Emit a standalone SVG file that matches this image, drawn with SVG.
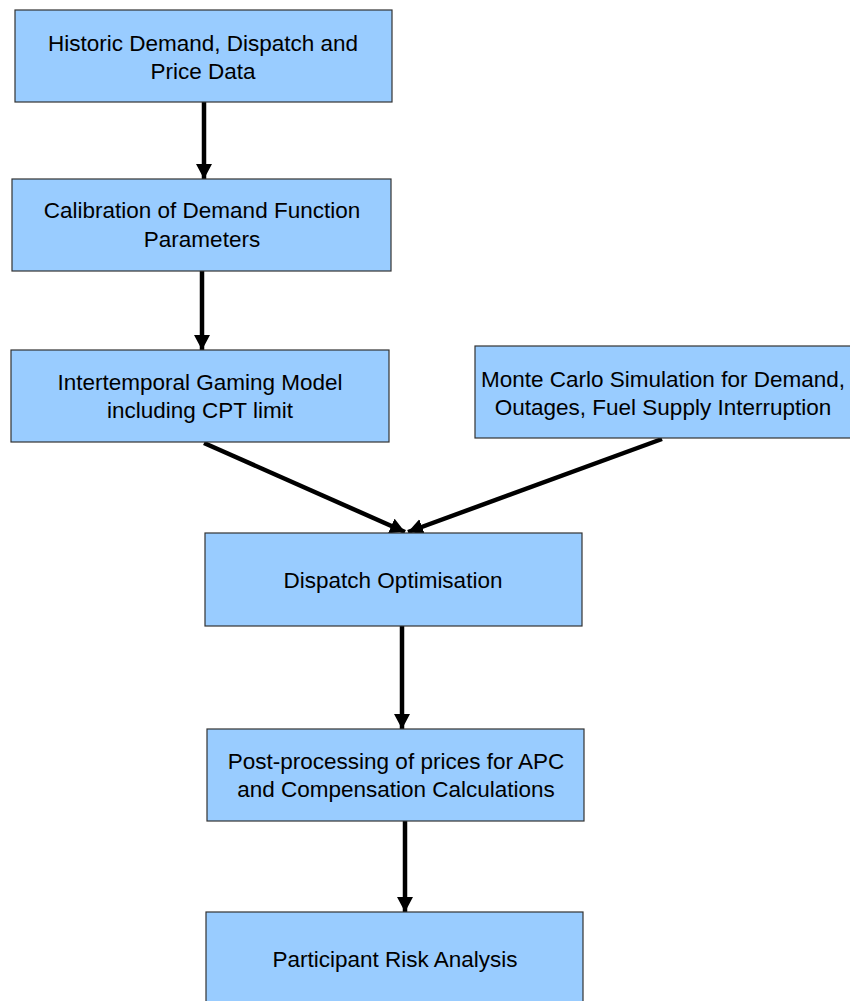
<svg xmlns="http://www.w3.org/2000/svg" width="850" height="1001" viewBox="0 0 850 1001">
<style>
.box{fill:#99CCFF;stroke:#333333;stroke-width:1.2}
.t{font-family:"Liberation Sans",Arial,sans-serif;font-size:22.5px;fill:#000;text-anchor:middle}
.c{stroke:#000;stroke-width:4.5;fill:none;marker-end:url(#ah)}
</style>
<defs>
<marker id="ah" markerUnits="userSpaceOnUse" markerWidth="17" markerHeight="17" refX="15" refY="8" orient="auto">
<path d="M0,0 L15,8 L0,16 Z" fill="#000"/>
</marker>
</defs>
<rect width="850" height="1001" fill="#fff"/>
<g id="connectors">
<line class="c" x1="204" y1="102" x2="204" y2="179"/>
<line class="c" x1="202" y1="271" x2="202" y2="350"/>
<line class="c" x1="204" y1="443" x2="405" y2="532"/>
<line class="c" x1="662" y1="439" x2="408" y2="532"/>
<line class="c" x1="402" y1="626" x2="402" y2="729"/>
<line class="c" x1="405" y1="821" x2="405" y2="912"/>
</g>
<g id="n1"><rect class="box" x="15" y="10" width="377" height="92"/>
<text class="t" x="203" y="51">Historic Demand, Dispatch and</text><text class="t" x="203" y="79">Price Data</text></g>
<g id="n2"><rect class="box" x="12" y="179" width="379" height="92"/>
<text class="t" x="202" y="218">Calibration of Demand Function</text><text class="t" x="202" y="247">Parameters</text></g>
<g id="n3"><rect class="box" x="11" y="350" width="378" height="92"/>
<text class="t" x="200" y="390">Intertemporal Gaming Model</text><text class="t" x="200" y="418">including CPT limit</text></g>
<g id="n4"><rect class="box" x="475" y="346" width="380" height="92"/>
<text class="t" x="663" y="387">Monte Carlo Simulation for Demand,</text><text class="t" x="663" y="415">Outages, Fuel Supply Interruption</text></g>
<g id="n5"><rect class="box" x="205" y="533" width="377" height="93"/>
<text class="t" x="393" y="588">Dispatch Optimisation</text></g>
<g id="n6"><rect class="box" x="207" y="729" width="377" height="92"/>
<text class="t" x="396" y="769">Post-processing of prices for APC</text><text class="t" x="396" y="797">and Compensation Calculations</text></g>
<g id="n7"><rect class="box" x="206" y="912" width="377" height="95"/>
<text class="t" x="395" y="967">Participant Risk Analysis</text></g>
</svg>
